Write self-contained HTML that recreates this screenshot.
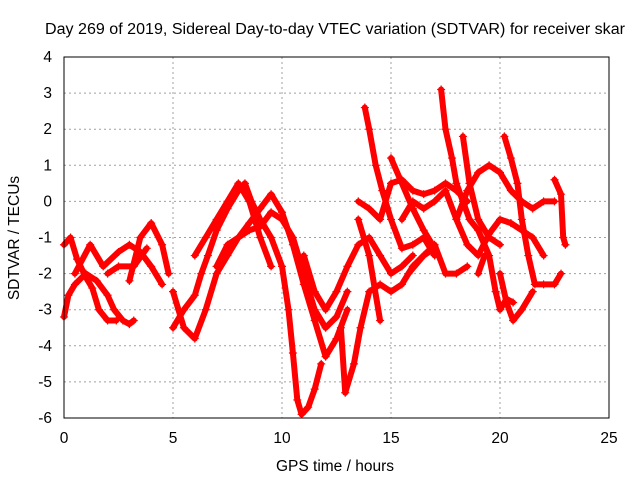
<!DOCTYPE html>
<html><head><meta charset="utf-8"><style>
body{margin:0;background:#fff}
svg text{font-family:"Liberation Sans",sans-serif;fill:#000}
</style></head><body>
<svg id="chart" width="640" height="480" viewBox="0 0 640 480">
<text x="335" y="34" font-size="15.5" text-anchor="middle" textLength="580" lengthAdjust="spacingAndGlyphs">Day 269 of 2019, Sidereal Day-to-day VTEC variation (SDTVAR) for receiver skar</text>
<text x="335" y="471" font-size="15.5" text-anchor="middle">GPS time / hours</text>
<text transform="translate(19,238) rotate(-90)" font-size="15.5" text-anchor="middle">SDTVAR / TECUs</text>
<g id="grid"></g><g id="ticks"></g><g id="marks"></g>
<rect x="64" y="57" width="545" height="361" fill="none" stroke="#000" stroke-width="1"/>
</svg>
<script>
const xTicks=[0,5,10,15,20,25];
const yTicks=[4,3,2,1,0,-1,-2,-3,-4,-5,-6];
const trackA=[[0,-3.2],[0.2,-2.6],[0.5,-2.3],[1,-2],[1.5,-2.2],[2,-2.6],[2.3,-3],[2.7,-3.3],[3,-3.4],[3.2,-3.3]];
const trackB=[[0,-1.2],[0.3,-1],[0.6,-1.6],[1,-2.1],[1.3,-2.4],[1.6,-3],[2,-3.3],[2.4,-3.3]];
const trackC=[[0.5,-2],[1.2,-1.2],[1.8,-1.8],[2.5,-1.4],[3,-1.2],[3.5,-1.4],[4,-1.8],[4.5,-2.3]];
const trackD=[[3,-2.2],[3.5,-1],[4,-0.6],[4.5,-1.2],[4.8,-2]];
const trackE=[[2,-2],[2.5,-1.8],[3.2,-1.8],[3.8,-1.3]];
const trackF=[[5,-3.5],[5.5,-3],[6,-2.6],[6.3,-2],[6.6,-1.5],[7,-0.8],[7.5,-0.2],[8,0.3],[8.3,0.5],[8.6,0],[9,-0.5],[9.5,-1],[10,-1.8],[10.3,-3],[10.5,-4.2],[10.7,-5.5],[10.9,-5.9],[11.2,-5.7],[11.5,-5.2],[11.8,-4.5]];
const trackG=[[5,-2.5],[5.5,-3.5],[6,-3.8],[6.5,-3],[7,-2],[7.5,-1.5],[8,-1],[8.5,-0.8],[9,-0.7],[9.5,-0.3],[10,-0.5],[10.5,-1],[11,-2],[11.5,-3],[12,-3.5],[12.5,-3.2],[13,-2.5]];
const trackH=[[6,-1.5],[6.5,-1],[7,-0.5],[7.5,0],[8,0.5],[8.5,0],[9,-1],[9.5,-1.8]];
const trackI=[[7,-1.8],[7.5,-1.2],[8,-1],[8.5,-0.6],[9,-0.2],[9.5,0.2],[10,-0.3],[10.5,-1.2],[11,-2.3],[11.5,-3.3],[12,-4.3],[12.5,-3.8],[13,-3]];
const trackJ=[[11,-1.5],[11.5,-2.5],[12,-3],[12.5,-2.5],[13,-1.8],[13.5,-1.2],[14,-1],[14.5,-1.5],[15,-2],[15.5,-1.8],[16,-1.5]];
const trackK=[[12.7,-3.5],[12.9,-5.3],[13.3,-4.5],[13.6,-3.5],[14,-2.5],[14.5,-2.3],[15,-2.5],[15.5,-2.3],[16,-1.8],[16.5,-1.5],[17,-1.3]];
const trackL=[[13.8,2.6],[14,2],[14.3,1],[14.6,0.3],[15,-0.5],[15.5,-1.3],[16,-1.2],[16.5,-1],[17,-1.5]];
const trackM=[[13.5,-0.5],[14,-1.5],[14.5,-3.3]];
const trackN=[[13.5,0],[14,-0.2],[14.5,-0.5],[15,0.5],[15.5,0.6],[16,0.3],[16.5,0.2],[17,0.3],[17.5,0.5],[18,0.3],[18.5,0]];
const trackO=[[15,1.2],[15.5,0.5],[16,-0.2],[16.5,-0.8],[17,-1.3]];
const trackP=[[17.3,3.1],[17.5,2],[17.8,1.2],[18,0.5],[18.3,0],[18.6,-0.5],[19,-0.8],[19.5,-1.5],[19.8,-2.5],[20,-3],[20.3,-2.7],[20.6,-2.8]];
const trackQ=[[15.5,-0.5],[16,0],[16.5,-0.2],[17,0],[17.5,0.3],[18,-0.5],[18.5,-1.2],[19,-1.5],[19.5,-0.9],[20,-0.5],[20.5,-0.6],[21,-0.8],[21.5,-1],[22,-1.5]];
const trackR=[[15.8,-2],[16.5,-1.5],[17,-1.2],[17.5,-2],[18,-2],[18.5,-1.8]];
const trackS=[[18,-0.5],[18.5,0.3],[19,0.8],[19.5,1],[20,0.8],[20.5,0.3],[21,0],[21.5,-0.2],[22,0],[22.5,0]];
const trackT=[[20.2,1.8],[20.5,1.2],[20.8,0.5],[21,-0.5],[21.3,-1.5],[21.6,-2.3],[22,-2.3],[22.5,-2.3],[22.8,-2]];
const trackU=[[20,-2],[20.3,-2.8],[20.6,-3.3],[21,-3],[21.5,-2.5]];
const trackV=[[22.5,0.6],[22.8,0.2],[22.9,-1],[23,-1.2]];
const trackW=[[18.3,1.8],[18.6,0.5],[19,-0.5],[19.5,-1],[20,-1.2]];
const trackX=[[19,-2],[19.3,-1.5]];
const tracks=[trackA,trackB,trackC,trackD,trackE,trackF,trackG,trackH,trackI,trackJ,trackK,trackL,trackM,trackN,trackO,trackP,trackQ,trackR,trackS,trackT,trackU,trackV,trackW,trackX];
const NS="http://www.w3.org/2000/svg";
const X0=64,X1=609,Y0=57,Y1=418;
function xs(v){return X0+(v-0)/(25-0)*(X1-X0);}
function ys(v){return Y1-(v-(-6))/(4-(-6))*(Y1-Y0);}
const grid=document.getElementById('grid'),ticks=document.getElementById('ticks'),marks=document.getElementById('marks');
function mk(tag,attrs,parent){const e=document.createElementNS(NS,tag);for(const k in attrs)e.setAttribute(k,attrs[k]);parent.appendChild(e);return e;}
xTicks.forEach(t=>{const x=xs(t);
 if(t>0&&t<25){const g=mk('line',{x1:x,x2:x,y1:Y0,y2:Y1,stroke:'#a0a0a0','stroke-dasharray':'2,3'},grid);
 
 }
 const l=mk('text',{x:x,y:443,'font-size':15.5,'text-anchor':'middle'},ticks);l.textContent=t;
 
 
});
yTicks.forEach(t=>{const y=ys(t);
 if(t>-6&&t<4){const g=mk('line',{x1:X0,x2:X1,y1:y,y2:y,stroke:'#a0a0a0','stroke-dasharray':'2,3'},grid);
 
 }
 const l=mk('text',{x:52,y:y+5,'font-size':15.5,'text-anchor':'end'},ticks);l.textContent=t;
 
 
});
tracks.forEach(tr=>{
 const g=mk('g',{},marks);
 
 
 const pts=tr.map(p=>xs(p[0]).toFixed(1)+','+ys(p[1]).toFixed(1)).join(' ');
 mk('polyline',{points:pts,fill:'none',stroke:'#f00','stroke-width':6,'stroke-linejoin':'round','stroke-linecap':'round'},g);
 tr.forEach(p=>{const x=xs(p[0]),y=ys(p[1]);
  const m=mk('path',{d:`M${x-4},${y}h8M${x},${y-4}v8`,stroke:'#f00','stroke-width':1.2},g);
  
  
 });
});
</script>
</body></html>
